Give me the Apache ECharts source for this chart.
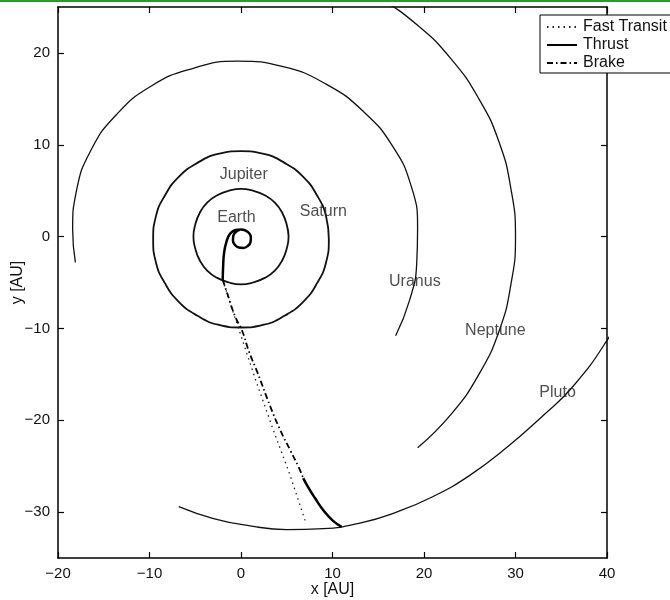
<!DOCTYPE html>
<html>
<head>
<meta charset="utf-8">
<script src="https://cdn.jsdelivr.net/npm/echarts@6/dist/echarts.min.js"></script>
<style>
    html, body { margin: 0; padding: 0; background: #fff; }
    #chart { width: 670px; height: 600px; }
</style>
</head>
<body>
<div id="chart"></div>
<script>
// tick labels
const xTicks = [-20, -10, 0, 10, 20, 30, 40];
const yTicks = [-30, -20, -10, 0, 10, 20];

// planet orbits [x, y] in AU
const jupiterOrbit = [[5.2,0],[5.0,1.3],[4.5,2.6],[3.7,3.7],[2.6,4.5],[1.3,5.0],[0,5.2],[-1.3,5.0],[-2.6,4.5],[-3.7,3.7],[-4.5,2.6],[-5.0,1.3],[-5.2,0],[-5.0,-1.3],[-4.5,-2.6],[-3.7,-3.7],[-2.6,-4.5],[-1.3,-5.0],[0,-5.2],[1.3,-5.0],[2.6,-4.5],[3.7,-3.7],[4.5,-2.6],[5.0,-1.3],[5.2,0],[5.0,1.3]];
const saturnOrbit = [[9.6,-0.3],[9.3,2.2],[8.3,4.5],[6.8,6.5],[4.8,8.0],[2.5,9.0],[0,9.3],[-2.5,9.0],[-4.8,8.0],[-6.8,6.5],[-8.3,4.5],[-9.3,2.2],[-9.6,-0.3],[-9.3,-2.8],[-8.3,-5.1],[-6.8,-7.1],[-4.8,-8.6],[-2.5,-9.6],[0,-9.9],[2.5,-9.6],[4.8,-8.6],[6.8,-7.1],[8.3,-5.1],[9.3,-2.8],[9.6,-0.3],[9.3,2.2]];
const uranusOrbit = [[16.9,-10.8],[18.4,-7.0],[19.2,-3.0],[19.3,1.0],[18.6,5.5],[16.6,9.8],[13.4,13.6],[9.3,16.6],[4.6,18.5],[-0.4,19.1],[-5.3,18.3],[-9.8,16.4],[-13.6,13.3],[-16.4,9.4],[-18.0,4.9],[-18.4,0.8],[-18.1,-2.8]];
const neptuneOrbit = [[19.3,-23.0],[23.0,-19.3],[26.0,-15.0],[28.2,-10.3],[29.5,-5.2],[30,0],[29.5,5.2],[28.2,10.3],[26.0,15.0],[23.0,19.3],[19.3,23.0],[15.0,26.0],[10.3,28.2]];
const plutoOrbit = [[-6.8,-29.4],[-3,-30.7],[1,-31.5],[5,-31.9],[9,-31.8],[13,-31.2],[17,-30.0],[21,-28.3],[25,-26.0],[29,-23.0],[33,-19.5],[36.3,-16.3],[40,-11.3],[43,-6]];

// trajectories
const thrustOut = [[-0.07,0.73],[-0.54,0.52],[-0.84,0.09],[-0.88,-0.42],[-0.67,-0.89],[-0.24,-1.19],[0.27,-1.23],[0.74,-1.02],[1.04,-0.59],[1.08,-0.08],[0.87,0.39],[0.44,0.69],[0.01,0.78],[-0.6,0.72],[-1.2,0.3],[-1.6,-0.6],[-1.85,-1.8],[-1.95,-3.2],[-2.0,-4.7]];
const brakeLeg = [[-2.0,-4.7],[-1.5,-6.2],[-0.6,-8.8],[0.1,-10.2],[0.9,-12.6],[1.8,-14.8],[3.2,-18.5],[4.3,-21.1],[5.4,-23.3],[6.3,-25.1],[6.8,-26.3]];
const thrustIn = [[6.8,-26.3],[7.4,-27.4],[8.1,-28.5],[9.0,-29.8],[10.0,-30.9],[11.0,-31.6]];
const fastTransit = [[-2.0,-4.7],[-0.8,-8.4],[1.6,-15.6],[3.4,-20.7],[5.3,-25.8],[7.0,-30.9]];

// planet names and where they are written
const planetNames = ['Earth', 'Jupiter', 'Saturn', 'Uranus', 'Neptune', 'Pluto'];
const planetLabelPos = [[-0.5,2.1],[0.3,6.7],[9.0,2.7],[19.0,-4.95],[27.8,-10.2],[34.6,-17.0]];

const FONT = 'Liberation Sans, Arial, sans-serif';
const minus = v => String(v).replace('-', '\u2212');

const axisLine = { show: true, onZero: false, lineStyle: { color: '#000', width: 1.5 } };
const tick = { show: true, inside: true, length: 6, lineStyle: { color: '#000', width: 1.2 } };

function orbit(name, data, width) {
    return {
        name: name,
        type: 'line',
        data: data,
        smooth: 0.5,
        symbol: 'none',
        silent: true,
        lineStyle: { color: '#111', width: width }
    };
}

let chart = echarts.init(document.getElementById('chart'));
let option = {
    animation: false,
    backgroundColor: '#fff',
    grid: { left: 58, right: 63, top: 7, bottom: 42, containLabel: false, outerBoundsMode: 'none' },
    legend: {
        data: ['Fast Transit', 'Thrust', 'Brake'],
        orient: 'vertical',
        left: 540,
        top: 15,
        padding: [4, 20, 2, 6],
        itemGap: 2,
        itemWidth: 30,
        itemHeight: 14,
        backgroundColor: '#fff',
        borderColor: '#000',
        borderWidth: 1,
        borderRadius: 0,
        itemStyle: { color: 'rgba(0,0,0,0)', borderWidth: 0, opacity: 0 },
        textStyle: { fontFamily: FONT, fontSize: 16, color: '#111', padding: [0, 0, 0, 1] }
    },
    xAxis: [
        {
            type: 'value', min: -20, max: 40, interval: 10, position: 'bottom',
            axisLine: axisLine, axisTick: tick, splitLine: { show: false },
            axisLabel: { fontFamily: FONT, fontSize: 15, color: '#111', margin: 8, formatter: minus },
            name: 'x [AU]', nameLocation: 'middle', nameGap: 24, nameMoveOverlap: false,
            nameTextStyle: { fontFamily: FONT, fontSize: 16, color: '#111' }
        },
        {
            type: 'value', min: -20, max: 40, interval: 10, position: 'top',
            axisLine: axisLine, axisTick: tick, splitLine: { show: false },
            axisLabel: { show: false }
        }
    ],
    yAxis: [
        {
            type: 'value', min: -35, max: 25, position: 'left',
            axisLine: axisLine, splitLine: { show: false },
            axisTick: Object.assign({ customValues: yTicks }, tick),
            axisLabel: { customValues: yTicks, fontFamily: FONT, fontSize: 15, color: '#111', margin: 8, formatter: minus },
            name: 'y [AU]', nameLocation: 'middle', nameGap: 32, nameMoveOverlap: false,
            nameTextStyle: { fontFamily: FONT, fontSize: 16, color: '#111' }
        },
        {
            type: 'value', min: -35, max: 25, position: 'right',
            axisLine: axisLine, splitLine: { show: false },
            axisTick: Object.assign({ customValues: yTicks }, tick),
            axisLabel: { show: false, customValues: yTicks }
        }
    ],
    graphic: [
        { type: 'rect', left: 0, top: 0, shape: { width: 670, height: 2 }, style: { fill: '#22a022' }, z: 100 }
    ],
    series: [
        orbit('Jupiter orbit', jupiterOrbit, 1.8),
        orbit('Saturn orbit', saturnOrbit, 1.8),
        orbit('Uranus orbit', uranusOrbit, 1.3),
        orbit('Neptune orbit', neptuneOrbit, 1.3),
        orbit('Pluto orbit', plutoOrbit, 1.3),
        {
            name: 'Fast Transit', type: 'line', data: fastTransit, symbol: 'none',
            lineStyle: { color: '#222', width: 1.3, type: [1.5, 4] }
        },
        {
            name: 'Thrust', type: 'line', data: thrustOut, smooth: 0.5, symbol: 'none',
            lineStyle: { color: '#000', width: 2.5 }
        },
        {
            name: 'Thrust', type: 'line', data: thrustIn, smooth: 0.5, symbol: 'none',
            lineStyle: { color: '#000', width: 2.5 }
        },
        {
            name: 'Brake', type: 'line', data: brakeLeg, smooth: 0.5, symbol: 'none',
            lineStyle: { color: '#000', width: 1.8, type: [6, 3, 1.5, 3] }
        },
        {
            name: 'labels', type: 'scatter', silent: true, symbolSize: 0, z: 5,
            data: planetNames.map((n, i) => ({ name: n, value: planetLabelPos[i] })),
            label: {
                show: true, position: 'inside', formatter: '{b}',
                fontFamily: FONT, fontSize: 16, color: '#222'
            }
        }
    ]
};
chart.setOption(option);
</script>
</body>
</html>
